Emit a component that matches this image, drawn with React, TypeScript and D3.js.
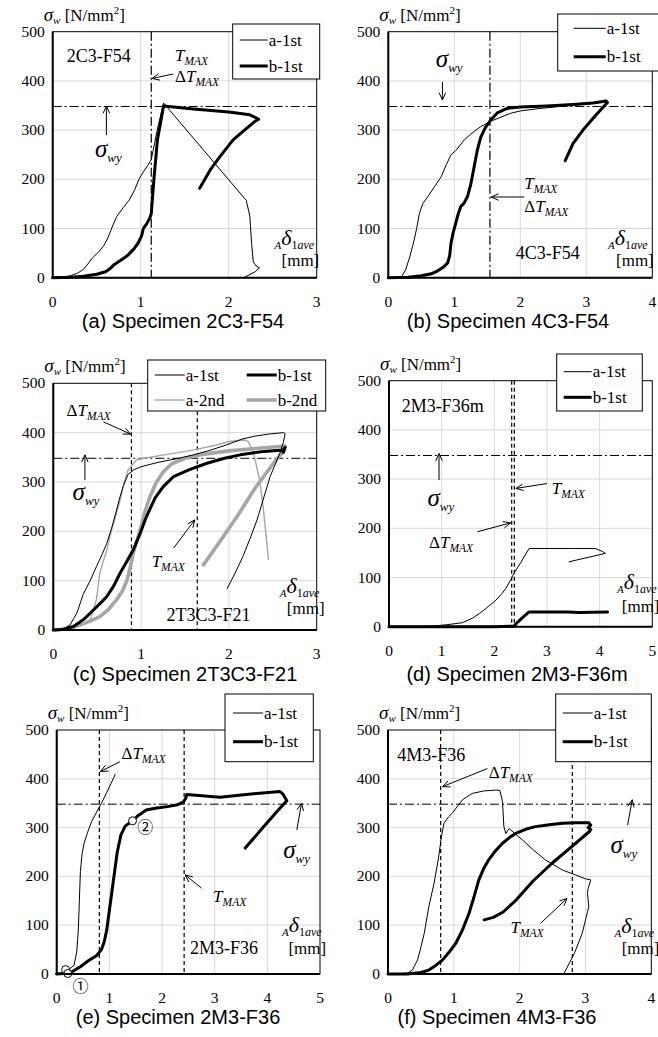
import React from 'react';
import * as d3 from 'd3';

type Pt = [number, number];

const W = 658;
const H = 1037;

// yield stress of the web, drawn as a dash-dot line in every panel [N/mm²]
const SIGMA_WY = 348;
const STRESS_MAX = 500;
const STRESS_TICKS = [0, 100, 200, 300, 400, 500];

// ---------- (a) 2C3-F54 ----------
const a1st_2C3F54: Pt[] = [
  [0, 0], [0.1, 1], [0.2, 4], [0.28, 9], [0.35, 17], [0.4, 28], [0.45, 40], [0.52, 52], [0.58, 65],
  [0.63, 82], [0.68, 105], [0.73, 125], [0.8, 142], [0.87, 158], [0.93, 178], [0.98, 200], [1.03, 215],
  [1.08, 228], [1.12, 240], [1.16, 275], [1.2, 310], [1.26, 355], [2.2, 157], [2.24, 125], [2.26, 70],
  [2.28, 32], [2.31, 24], [2.35, 20], [2.3, 12], [2.17, 0],
];
const b1st_2C3F54: Pt[] = [
  [0, 0], [0.2, 1], [0.35, 3], [0.5, 7], [0.6, 12], [0.65, 18], [0.7, 27], [0.77, 35], [0.85, 45],
  [0.92, 58], [0.97, 70], [1.01, 85], [1.03, 100], [1.07, 110], [1.1, 120], [1.12, 130], [1.15, 200],
  [1.19, 280], [1.26, 349], [1.6, 343], [2.0, 337], [2.24, 331], [2.3, 326], [2.34, 322], [2.3, 318],
  [2.2, 303], [2.05, 280], [1.9, 246], [1.79, 219], [1.67, 182],
];

// ---------- (b) 4C3-F54 ----------
const a1st_4C3F54: Pt[] = [
  [0, 0], [0.1, 0], [0.2, 2], [0.26, 15], [0.32, 40], [0.38, 70], [0.43, 100], [0.47, 130], [0.52, 150],
  [0.6, 165], [0.7, 185], [0.8, 205], [0.88, 230], [0.95, 250], [1.02, 258], [1.08, 268], [1.15, 280],
  [1.25, 292], [1.4, 307], [1.55, 318], [1.7, 326], [1.85, 334], [2.0, 339], [2.3, 344], [2.6, 348],
  [2.9, 352], [3.15, 355], [3.3, 358],
];
const b1st_4C3F54: Pt[] = [
  [0, 0], [0.3, 1], [0.5, 4], [0.65, 8], [0.75, 14], [0.83, 21], [0.9, 30], [0.93, 45], [0.95, 70],
  [0.98, 90], [1.02, 110], [1.06, 130], [1.1, 145], [1.15, 152], [1.2, 165], [1.25, 190], [1.3, 225],
  [1.35, 260], [1.4, 285], [1.47, 305], [1.55, 320], [1.65, 335], [1.8, 344], [2.0, 347], [2.4, 349],
  [2.8, 352], [3.1, 355], [3.3, 359], [3.32, 356], [3.15, 331], [2.95, 300], [2.8, 273], [2.68, 238],
];

// ---------- (c) 2T3C3-F21 ----------
const a1st_2T3C3F21: Pt[] = [
  [0, 0], [0.1, 1], [0.19, 10], [0.27, 35], [0.34, 72], [0.42, 100], [0.49, 128], [0.56, 155], [0.61, 176],
  [0.67, 210], [0.72, 243], [0.76, 270], [0.8, 293], [0.85, 315], [0.92, 325], [1.0, 331], [1.2, 340],
  [1.4, 347], [1.6, 355], [1.8, 365], [1.97, 375], [2.15, 387], [2.3, 393], [2.45, 397], [2.62, 400],
  [2.64, 398], [2.62, 380], [2.58, 358], [2.47, 311], [2.4, 270], [2.32, 223], [2.24, 185], [2.16, 149],
  [2.07, 115], [1.98, 84],
];
const b1st_2T3C3F21: Pt[] = [
  [0, 0], [0.1, 1], [0.23, 7], [0.35, 22], [0.46, 41], [0.54, 55], [0.61, 68], [0.69, 90], [0.76, 115],
  [0.84, 140], [0.91, 162], [0.99, 196], [1.05, 225], [1.1, 245], [1.16, 268], [1.25, 290], [1.37, 311],
  [1.55, 325], [1.75, 338], [1.95, 348], [2.13, 355], [2.4, 362], [2.62, 365], [2.64, 370], [2.62, 360],
];
const a2nd_2T3C3F21: Pt[] = [
  [0, 0], [0.2, 3], [0.32, 10], [0.42, 20], [0.49, 61], [0.53, 115], [0.57, 140], [0.61, 162], [0.66, 200],
  [0.72, 237], [0.76, 263], [0.8, 295], [0.85, 324], [0.95, 345], [1.1, 350], [1.37, 358], [1.6, 365],
  [1.86, 375], [2.0, 382], [2.18, 385], [2.22, 382], [2.28, 360], [2.35, 304], [2.39, 250], [2.43, 180],
  [2.45, 143],
];
const b2nd_2T3C3F21: Pt[] = [
  [0, 0], [0.15, 2], [0.3, 10], [0.42, 18], [0.53, 27], [0.63, 42], [0.72, 61], [0.79, 80], [0.84, 101],
  [0.88, 130], [0.91, 156], [0.95, 180], [0.99, 203], [1.04, 238], [1.1, 270], [1.17, 298], [1.25, 320],
  [1.35, 337], [1.5, 348], [1.7, 356], [2.0, 363], [2.3, 368], [2.64, 373], [2.62, 362], [2.5, 336],
  [2.3, 288], [2.1, 232], [1.9, 180], [1.71, 132],
];

// ---------- (d) 2M3-F36m ----------
const a1st_2M3F36m: Pt[] = [
  [0, 0], [0.5, 0], [0.8, 1], [1.1, 4], [1.39, 8], [1.58, 17], [1.72, 27], [1.84, 37], [2.03, 54],
  [2.15, 68], [2.22, 78], [2.31, 95], [2.37, 108], [2.5, 130], [2.66, 159], [3.5, 159], [3.92, 159],
  [4.05, 153], [4.11, 149], [3.42, 132],
];
const b1st_2M3F36m: Pt[] = [
  [0, 0], [1, 0], [2, 0], [2.37, 1], [2.45, 10], [2.55, 20], [2.66, 30], [3.4, 30], [3.6, 29], [4.15, 30],
];

// ---------- (e) 2M3-F36 ----------
const a1st_2M3F36: Pt[] = [
  [0, 0], [0.1, 2], [0.17, 8], [0.24, 10], [0.33, 18], [0.38, 45], [0.41, 90], [0.43, 150], [0.45, 210],
  [0.48, 245], [0.52, 268], [0.58, 288], [0.66, 312], [0.75, 330], [0.85, 350], [0.95, 372], [1.03, 390],
  [1.11, 409],
];
const b1st_2M3F36: Pt[] = [
  [0, 0], [0.13, 1], [0.21, 1], [0.3, 5], [0.45, 15], [0.6, 27], [0.76, 38], [0.85, 50], [0.9, 65],
  [0.95, 90], [1.0, 130], [1.05, 170], [1.1, 210], [1.15, 250], [1.22, 285], [1.3, 303], [1.44, 314],
  [1.55, 325], [1.7, 336], [1.9, 340], [2.1, 343], [2.3, 347], [2.4, 352], [2.45, 360], [2.47, 368],
  [2.7, 366], [3.1, 362], [3.6, 368], [4.24, 374], [4.3, 368], [4.37, 355], [4.2, 335], [3.9, 298],
  [3.58, 258],
];
// state points ① and ② on the 2M3-F36 curves
const points_2M3F36: Pt[] = [[0.17, 9], [0.21, 1], [1.44, 314]];

// ---------- (f) 4M3-F36 ----------
const a1st_4M3F36: Pt[] = [
  [0, 15], [0, 0], [0.15, 0], [0.3, 2], [0.37, 8], [0.45, 29], [0.5, 55], [0.55, 83], [0.62, 138],
  [0.7, 186], [0.77, 240], [0.81, 280], [0.85, 309], [0.92, 322], [0.98, 330], [1.13, 357], [1.28, 370],
  [1.45, 375], [1.64, 377], [1.7, 376], [1.74, 353], [1.76, 302], [1.79, 288], [1.84, 298], [1.95, 285],
  [2.04, 275], [2.2, 255], [2.39, 234], [2.65, 213], [2.85, 203], [3.0, 195], [3.08, 193], [3.04, 175],
  [3.03, 165], [3.05, 138], [2.95, 83], [2.83, 42], [2.67, 0],
];
const b1st_4M3F36: Pt[] = [
  [0, 0], [0.3, 0], [0.5, 3], [0.62, 8], [0.72, 17], [0.83, 29], [0.93, 45], [1.03, 63], [1.13, 90],
  [1.23, 124], [1.3, 155], [1.38, 193], [1.45, 215], [1.53, 234], [1.63, 252], [1.74, 268], [1.85, 280],
  [1.94, 288], [2.1, 297], [2.24, 302], [2.45, 306], [2.65, 309], [2.85, 310], [3.05, 310], [3.08, 305],
  [3.04, 300], [3.08, 296], [3.06, 292], [2.8, 262], [2.5, 228], [2.2, 190], [1.95, 152], [1.75, 127],
  [1.6, 116], [1.46, 111],
];

// T_MAX / ΔT_MAX displacement markers
const markers_2C3F54 = [1.12];
const markers_4C3F54 = [1.54];
const markers_2T3C3F21 = [0.89, 1.64];
const markers_2M3F36m = [2.33, 2.38];
const markers_2M3F36 = [0.81, 2.42];
const markers_4M3F36 = [0.8, 2.8];

const CAPTIONS = [
  '(a) Specimen 2C3-F54',
  '(b) Specimen 4C3-F54',
  '(c) Specimen 2T3C3-F21',
  '(d) Specimen 2M3-F36m',
  '(e) Specimen 2M3-F36',
  '(f) Specimen 4M3-F36',
];

type Style = { color: string; width: number };
const THIN: Style = { color: '#000', width: 1 };
const THICK: Style = { color: '#000', width: 3 };
const GRAY_THIN: Style = { color: '#a6a6a6', width: 1.4 };
const GRAY_THICK: Style = { color: '#a6a6a6', width: 3.6 };

type Series = { name: string; data: Pt[]; style: Style };
type Note = { kind: 'plain' | 'tmax' | 'dtmax' | 'swy' | 'delta' | 'mm'; at: Pt; text?: string };
type Arrow = { from: Pt; to: Pt };
type LegendItem = { name: string; style: Style; dx: number; row: number };
type Legend = { x: number; y: number; w: number; h: number; rows: number[]; sample: [number, number]; items: LegendItem[] };

type PanelCfg = {
  left: number; right: number; top: number; bottom: number; xMax: number;
  series: Series[]; markers: number[]; markerStyle: 'dashdot' | 'dash';
  notes: Note[]; arrows: Arrow[]; legend: Legend;
  caption: string; captionX: number; captionY: number;
  points?: Pt[]; pointLabels?: { text: string; at: Pt; below?: boolean }[];
};

const twoRowItems = (dx: number): LegendItem[] => [
  { name: 'a-1st', style: THIN, dx, row: 0 },
  { name: 'b-1st', style: THICK, dx, row: 1 },
];

const panels: PanelCfg[] = [
  {
    left: 52.7, right: 316.7, top: 31.7, bottom: 277.7, xMax: 3,
    series: [
      { name: 'a-1st', data: a1st_2C3F54, style: THIN },
      { name: 'b-1st', data: b1st_2C3F54, style: THICK },
    ],
    markers: markers_2C3F54, markerStyle: 'dashdot',
    notes: [
      { kind: 'plain', at: [0.16, 439], text: '2C3-F54' },
      { kind: 'tmax', at: [1.39, 440] },
      { kind: 'dtmax', at: [1.39, 398] },
      { kind: 'swy', at: [0.48, 245] },
      { kind: 'delta', at: [2.52, 66] },
      { kind: 'mm', at: [2.6, 24] },
    ],
    arrows: [
      { from: [1.37, 414], to: [1.13, 405] },
      { from: [0.61, 290], to: [0.61, 349] },
    ],
    legend: { x: 232.7, y: 24, w: 87, h: 55, rows: [40, 66], sample: [7, 35], items: twoRowItems(0) },
    caption: CAPTIONS[0], captionX: 183, captionY: 328,
  },
  {
    left: 388.3, right: 652.3, top: 31.7, bottom: 277.7, xMax: 4,
    series: [
      { name: 'a-1st', data: a1st_4C3F54, style: THIN },
      { name: 'b-1st', data: b1st_4C3F54, style: THICK },
    ],
    markers: markers_4C3F54, markerStyle: 'dashdot',
    notes: [
      { kind: 'swy', at: [0.72, 428] },
      { kind: 'tmax', at: [2.06, 180] },
      { kind: 'dtmax', at: [2.06, 133] },
      { kind: 'plain', at: [1.93, 38], text: '4C3-F54' },
      { kind: 'delta', at: [3.33, 66] },
      { kind: 'mm', at: [3.45, 23] },
    ],
    arrows: [
      { from: [0.82, 398], to: [0.82, 361] },
      { from: [2.06, 164], to: [1.56, 164] },
    ],
    legend: { x: 557.7, y: 14, w: 104, h: 57, rows: [28.3, 56.7], sample: [16, 48], items: twoRowItems(0) },
    caption: CAPTIONS[1], captionX: 508, captionY: 328,
  },
  {
    left: 53.3, right: 316.7, top: 383.3, bottom: 630, xMax: 3,
    series: [
      { name: 'a-2nd', data: a2nd_2T3C3F21, style: GRAY_THIN },
      { name: 'b-2nd', data: b2nd_2T3C3F21, style: GRAY_THICK },
      { name: 'a-1st', data: a1st_2T3C3F21, style: THIN },
      { name: 'b-1st', data: b1st_2T3C3F21, style: THICK },
    ],
    markers: markers_2T3C3F21, markerStyle: 'dash',
    notes: [
      { kind: 'dtmax', at: [0.15, 434] },
      { kind: 'swy', at: [0.22, 263] },
      { kind: 'tmax', at: [1.12, 128] },
      { kind: 'plain', at: [1.29, 18], text: '2T3C3-F21' },
      { kind: 'delta', at: [2.58, 74] },
      { kind: 'mm', at: [2.66, 33] },
    ],
    arrows: [
      { from: [0.57, 422], to: [0.88, 397] },
      { from: [0.36, 304], to: [0.36, 355] },
      { from: [1.37, 166], to: [1.61, 223] },
    ],
    legend: {
      x: 147.7, y: 360, w: 178, h: 51, rows: [375, 400], sample: [7, 37],
      items: [
        { name: 'a-1st', style: THIN, dx: 0, row: 0 },
        { name: 'b-1st', style: THICK, dx: 92, row: 0 },
        { name: 'a-2nd', style: GRAY_THIN, dx: 0, row: 1 },
        { name: 'b-2nd', style: GRAY_THICK, dx: 92, row: 1 },
      ],
    },
    caption: CAPTIONS[2], captionX: 185, captionY: 681,
  },
  {
    left: 389, right: 652.3, top: 380.7, bottom: 626.7, xMax: 5,
    series: [
      { name: 'a-1st', data: a1st_2M3F36m, style: THIN },
      { name: 'b-1st', data: b1st_2M3F36m, style: THICK },
    ],
    markers: markers_2M3F36m, markerStyle: 'dash',
    notes: [
      { kind: 'plain', at: [0.24, 436], text: '2M3-F36m' },
      { kind: 'tmax', at: [3.09, 270] },
      { kind: 'dtmax', at: [0.76, 160] },
      { kind: 'swy', at: [0.73, 245] },
      { kind: 'delta', at: [4.33, 76] },
      { kind: 'mm', at: [4.42, 30] },
    ],
    arrows: [
      { from: [3.0, 291], to: [2.41, 281] },
      { from: [1.68, 193], to: [2.31, 211] },
      { from: [0.95, 298], to: [0.95, 352] },
    ],
    legend: { x: 556.7, y: 354, w: 85.6, h: 57, rows: [371.7, 397.3], sample: [7, 35], items: twoRowItems(0) },
    caption: CAPTIONS[3], captionX: 517, captionY: 681,
  },
  {
    left: 56.7, right: 320, top: 730, bottom: 974, xMax: 5,
    series: [
      { name: 'a-1st', data: a1st_2M3F36, style: THIN },
      { name: 'b-1st', data: b1st_2M3F36, style: THICK },
    ],
    markers: markers_2M3F36, markerStyle: 'dash',
    notes: [
      { kind: 'dtmax', at: [1.23, 440] },
      { kind: 'tmax', at: [2.97, 148] },
      { kind: 'swy', at: [4.3, 237] },
      { kind: 'plain', at: [2.53, 42], text: '2M3-F36' },
      { kind: 'delta', at: [4.28, 86] },
      { kind: 'mm', at: [4.4, 42] },
    ],
    arrows: [
      { from: [1.2, 435], to: [0.83, 415] },
      { from: [2.75, 176], to: [2.44, 203] },
      { from: [4.56, 295], to: [4.65, 350] },
    ],
    legend: { x: 225, y: 694, w: 88.3, h: 67.7, rows: [713, 741.7], sample: [8, 38], items: twoRowItems(0) },
    caption: CAPTIONS[4], captionX: 178, captionY: 1024,
    points: points_2M3F36,
    pointLabels: [
      { text: '①', at: [0.45, 0], below: true },
      { text: '②', at: [1.68, 288] },
    ],
  },
  {
    left: 388, right: 651.3, top: 730, bottom: 974, xMax: 4,
    series: [
      { name: 'a-1st', data: a1st_4M3F36, style: THIN },
      { name: 'b-1st', data: b1st_4M3F36, style: THICK },
    ],
    markers: markers_4M3F36, markerStyle: 'dash',
    notes: [
      { kind: 'plain', at: [0.14, 436], text: '4M3-F36' },
      { kind: 'dtmax', at: [1.53, 402] },
      { kind: 'tmax', at: [1.86, 85] },
      { kind: 'swy', at: [3.38, 247] },
      { kind: 'delta', at: [3.44, 84] },
      { kind: 'mm', at: [3.55, 42] },
    ],
    arrows: [
      { from: [1.51, 421], to: [0.83, 384] },
      { from: [2.32, 104], to: [2.72, 155] },
      { from: [3.64, 305], to: [3.71, 357] },
    ],
    legend: { x: 555.7, y: 694, w: 95.6, h: 67.7, rows: [713, 741.7], sample: [7, 37], items: twoRowItems(0) },
    caption: CAPTIONS[5], captionX: 497, captionY: 1024,
  },
];

const SERIF = '"Liberation Serif", "Times New Roman", "DejaVu Serif", serif';
const SANS = '"Liberation Sans", Arial, "DejaVu Sans", sans-serif';

function arrowPath(x1: number, y1: number, x2: number, y2: number) {
  const a = Math.atan2(y2 - y1, x2 - x1);
  const L = 8;
  const t = 0.42;
  const p1 = [x2 - L * Math.cos(a - t), y2 - L * Math.sin(a - t)];
  const p2 = [x2 - L * Math.cos(a + t), y2 - L * Math.sin(a + t)];
  return `M${x1},${y1}L${x2},${y2}M${p1[0]},${p1[1]}L${x2},${y2}L${p2[0]},${p2[1]}`;
}

function NoteText({ note, x, y }: { note: Note; x: number; y: number }) {
  const common = { x, y, fontFamily: SERIF, fill: '#000' } as const;
  switch (note.kind) {
    case 'plain':
      return <text {...common} fontSize={18}>{note.text}</text>;
    case 'mm':
      return <text {...common} fontSize={17}>[mm]</text>;
    case 'tmax':
      return (
        <text {...common}>
          <tspan fontSize={17} fontStyle="italic">T</tspan>
          <tspan fontSize={11.5} fontStyle="italic" dy={4}>MAX</tspan>
        </text>
      );
    case 'dtmax':
      return (
        <text {...common}>
          <tspan fontSize={17}>Δ</tspan>
          <tspan fontSize={17} fontStyle="italic">T</tspan>
          <tspan fontSize={11.5} fontStyle="italic" dy={4}>MAX</tspan>
        </text>
      );
    case 'swy':
      return (
        <text {...common}>
          <tspan fontSize={25} fontStyle="italic">σ</tspan>
          <tspan fontSize={13} fontStyle="italic" dy={5}>wy</tspan>
        </text>
      );
    case 'delta':
      return (
        <text {...common}>
          <tspan fontSize={11} fontStyle="italic" dy={4}>A</tspan>
          <tspan fontSize={22} fontStyle="italic" dy={-4}>δ</tspan>
          <tspan fontSize={12} dy={4}>1</tspan>
          <tspan fontSize={12} fontStyle="italic">ave</tspan>
        </text>
      );
  }
  return null;
}

function Panel({ p }: { p: PanelCfg }) {
  const x = d3.scaleLinear().domain([0, p.xMax]).range([p.left, p.right]);
  const y = d3.scaleLinear().domain([0, STRESS_MAX]).range([p.bottom, p.top]);
  const line = d3.line<Pt>().x((d) => x(d[0])).y((d) => y(d[1]));
  const xTicks = d3.range(0, p.xMax + 1);
  const dash = p.markerStyle === 'dashdot' ? '9,3,2,3' : '4,3';

  return (
    <g>
      {/* grid */}
      {xTicks.slice(1, -1).map((t) => (
        <line key={`gx${t}`} x1={x(t)} x2={x(t)} y1={p.top} y2={p.bottom} stroke="#d9d9d9" strokeWidth={1} />
      ))}
      {STRESS_TICKS.slice(1, -1).map((t) => (
        <line key={`gy${t}`} x1={p.left} x2={p.right} y1={y(t)} y2={y(t)} stroke="#d9d9d9" strokeWidth={1} />
      ))}
      <rect x={p.left} y={p.top} width={p.right - p.left} height={p.bottom - p.top} fill="none" stroke="#000" strokeWidth={1} />

      {/* yield level and T_MAX markers */}
      <line x1={p.left} x2={p.right} y1={y(SIGMA_WY)} y2={y(SIGMA_WY)} stroke="#000" strokeWidth={1} strokeDasharray="9,3,2,3" />
      {p.markers.map((m) => (
        <line key={`m${m}`} x1={x(m)} x2={x(m)} y1={p.top} y2={p.bottom} stroke="#000" strokeWidth={1.2} strokeDasharray={dash} />
      ))}

      {/* curves */}
      {p.series.map((s, i) => (
        <path key={`s${i}`} d={line(s.data) ?? ''} fill="none" stroke={s.style.color} strokeWidth={s.style.width}
          strokeLinejoin="round" strokeLinecap="round" />
      ))}

      {p.points?.map((pt, i) => (
        <circle key={`pt${i}`} cx={x(pt[0])} cy={y(pt[1])} r={4} fill="#fff" stroke="#000" strokeWidth={1} />
      ))}
      {p.pointLabels?.map((l, i) => (
        <text key={`pl${i}`} x={x(l.at[0])} y={l.below ? p.bottom + 18 : y(l.at[1])} fontSize={16}
          fontFamily='"Noto Sans CJK JP", "DejaVu Sans", sans-serif' textAnchor="middle">{l.text}</text>
      ))}

      {/* axes */}
      <line x1={p.left} x2={p.left} y1={p.top} y2={p.bottom + 1} stroke="#000" strokeWidth={2} />
      <line x1={p.left - 1} x2={p.right} y1={p.bottom} y2={p.bottom} stroke="#000" strokeWidth={2} />

      {STRESS_TICKS.map((t) => (
        <text key={`yt${t}`} x={p.left - 8} y={y(t) + 5} fontSize={15.5} fontFamily={SERIF} textAnchor="end">{t}</text>
      ))}
      {xTicks.map((t) => (
        <text key={`xt${t}`} x={x(t)} y={p.bottom + 29} fontSize={15.5} fontFamily={SERIF} textAnchor="middle">{t}</text>
      ))}

      {/* axis title */}
      <text x={p.left - 9} y={p.top - 11} fontFamily={SERIF}>
        <tspan fontSize={19} fontStyle="italic">σ</tspan>
        <tspan fontSize={11} fontStyle="italic" dy={3}>w</tspan>
        <tspan fontSize={17} dy={-3}> [N/mm</tspan>
        <tspan fontSize={11} dy={-7}>2</tspan>
        <tspan fontSize={17} dy={7}>]</tspan>
      </text>

      {/* annotations */}
      {p.arrows.map((a, i) => (
        <path key={`ar${i}`} d={arrowPath(x(a.from[0]), y(a.from[1]), x(a.to[0]), y(a.to[1]))} fill="none" stroke="#000" strokeWidth={1} />
      ))}
      {p.notes.map((n, i) => (
        <NoteText key={`n${i}`} note={n} x={x(n.at[0])} y={y(n.at[1])} />
      ))}

      {/* legend */}
      <g>
        <rect x={p.legend.x} y={p.legend.y} width={p.legend.w} height={p.legend.h} fill="#fff" stroke="#000" strokeWidth={1} />
        {p.legend.items.map((it, i) => {
          const ly = p.legend.rows[it.row];
          const x0 = p.legend.x + it.dx + p.legend.sample[0];
          const x1 = p.legend.x + it.dx + p.legend.sample[1];
          return (
            <g key={`lg${i}`}>
              <line x1={x0} x2={x1} y1={ly} y2={ly} stroke={it.style.color} strokeWidth={it.style.width} />
              <text x={x1 + 1} y={ly + 5.5} fontSize={17} fontFamily={SERIF}>{it.name}</text>
            </g>
          );
        })}
      </g>

      <text x={p.captionX} y={p.captionY} fontSize={20} fontFamily={SANS} textAnchor="middle">{p.caption}</text>
    </g>
  );
}

export default function App() {
  return (
    <svg width={W} height={H} viewBox={`0 0 ${W} ${H}`} style={{ display: 'block', position: 'absolute', left: 0, top: 0, background: '#fff' }}>
      <rect width={W} height={H} fill="#fff" />
      {panels.map((p, i) => (
        <Panel key={i} p={p} />
      ))}
    </svg>
  );
}
